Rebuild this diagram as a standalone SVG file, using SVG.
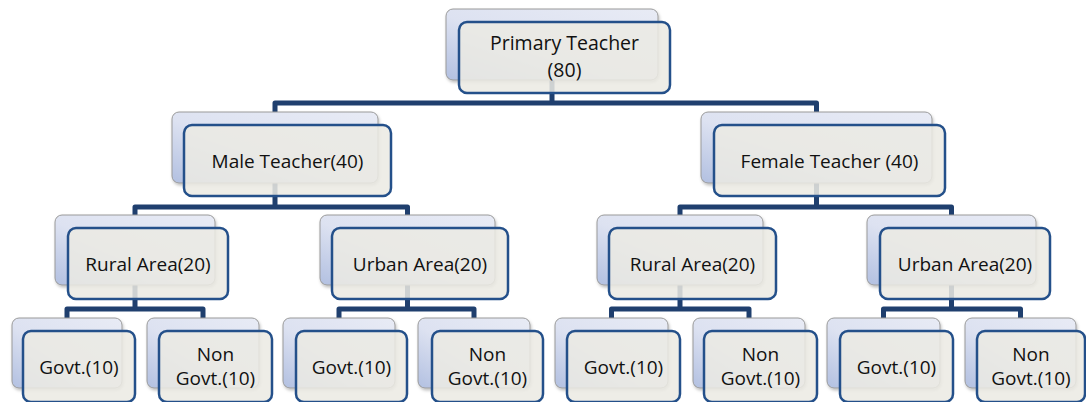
<svg xmlns="http://www.w3.org/2000/svg" width="1086" height="402" viewBox="0 0 1086 402">
<style>
.back{fill:url(#bg);stroke:#9a9a9a;stroke-width:1;filter:url(#sh)}
.front{fill:#ebeae3;fill-opacity:0.86;stroke:#24508a;stroke-width:2.5}
.conn{fill:none;stroke:#1f3f6e;stroke-width:5;stroke-linejoin:round}
.t{font-family:"Open Sans","Noto Sans","Liberation Sans",sans-serif;font-size:19px;fill:#111;text-anchor:middle}
.tt{font-size:19.5px}
</style>
<defs>
<linearGradient id="bg" x1="1" y1="0" x2="0" y2="1">
<stop offset="0" stop-color="#e8ebf5"/>
<stop offset="0.55" stop-color="#dde2f1"/>
<stop offset="1" stop-color="#b2c0e1"/>
</linearGradient>
<filter id="sh" x="-10%" y="-10%" width="125%" height="130%">
<feDropShadow dx="1" dy="2" stdDeviation="1.5" flood-color="#000" flood-opacity="0.25"/>
</filter>
</defs>
<g id="connectors">
<path class="conn" d="M552 80V103M275 112V103H816.5V112"/>
<path class="conn" d="M275 183V207M135 215V207H407.5V215"/>
<path class="conn" d="M816.5 183V207M680 215V207H951.5V215"/>
<path class="conn" d="M135 285V309M67 318V309H203V318"/>
<path class="conn" d="M407.5 285V309M339 318V309H474V318"/>
<path class="conn" d="M680 285V309M611.5 318V309H749V318"/>
<path class="conn" d="M951.5 285V309M883.5 318V309H1020.5V318"/>
</g>
<g id="n-primary">
<rect class="back" x="446" y="9" width="212" height="71" rx="7"/>
<rect class="front" x="459" y="22" width="211" height="71" rx="8"/>
<text class="t tt" x="564.5" y="50">Primary Teacher</text>
<text class="t tt" x="564.5" y="77">(80)</text>
</g>
<g id="n-male">
<rect class="back" x="172" y="112" width="206" height="71" rx="7"/>
<rect class="front" x="184" y="125" width="207" height="71" rx="8"/>
<text class="t" x="287.5" y="168">Male Teacher(40)</text>
</g>
<g id="n-female">
<rect class="back" x="701" y="112" width="231" height="71" rx="7"/>
<rect class="front" x="714" y="125" width="231" height="71" rx="8"/>
<text class="t" x="829.5" y="168">Female Teacher (40)</text>
</g>
<g id="n-m-rural">
<rect class="back" x="55" y="215" width="160" height="70" rx="7"/>
<rect class="front" x="68" y="228" width="160" height="71" rx="8"/>
<text class="t" x="148" y="271">Rural Area(20)</text>
</g>
<g id="n-m-urban">
<rect class="back" x="320" y="215" width="175" height="70" rx="7"/>
<rect class="front" x="332" y="228" width="176" height="71" rx="8"/>
<text class="t" x="420" y="271">Urban Area(20)</text>
</g>
<g id="n-f-rural">
<rect class="back" x="597" y="215" width="166" height="70" rx="7"/>
<rect class="front" x="609" y="228" width="167" height="71" rx="8"/>
<text class="t" x="692.5" y="271">Rural Area(20)</text>
</g>
<g id="n-f-urban">
<rect class="back" x="867" y="215" width="169" height="70" rx="7"/>
<rect class="front" x="880" y="228" width="170" height="71" rx="8"/>
<text class="t" x="965" y="271">Urban Area(20)</text>
</g>
<g id="n-mr-govt">
<rect class="back" x="12" y="318" width="110" height="70" rx="7"/>
<rect class="front" x="23" y="331" width="112" height="71" rx="8"/>
<text class="t" x="79" y="374">Govt.(10)</text>
</g>
<g id="n-mr-non">
<rect class="back" x="147" y="318" width="112" height="70" rx="7"/>
<rect class="front" x="159" y="331" width="113" height="71" rx="8"/>
<text class="t" x="215.5" y="361">Non</text>
<text class="t" x="215.5" y="385">Govt.(10)</text>
</g>
<g id="n-mu-govt">
<rect class="back" x="283" y="318" width="112" height="70" rx="7"/>
<rect class="front" x="296" y="331" width="111" height="71" rx="8"/>
<text class="t" x="351.5" y="374">Govt.(10)</text>
</g>
<g id="n-mu-non">
<rect class="back" x="418" y="318" width="112" height="70" rx="7"/>
<rect class="front" x="432" y="331" width="111" height="71" rx="8"/>
<text class="t" x="487.5" y="361">Non</text>
<text class="t" x="487.5" y="385">Govt.(10)</text>
</g>
<g id="n-fr-govt">
<rect class="back" x="555" y="318" width="113" height="70" rx="7"/>
<rect class="front" x="567" y="331" width="113" height="71" rx="8"/>
<text class="t" x="623.5" y="374">Govt.(10)</text>
</g>
<g id="n-fr-non">
<rect class="back" x="693" y="318" width="112" height="70" rx="7"/>
<rect class="front" x="704" y="331" width="113" height="71" rx="8"/>
<text class="t" x="760.5" y="361">Non</text>
<text class="t" x="760.5" y="385">Govt.(10)</text>
</g>
<g id="n-fu-govt">
<rect class="back" x="827" y="318" width="113" height="70" rx="7"/>
<rect class="front" x="840" y="331" width="113" height="71" rx="8"/>
<text class="t" x="896.5" y="374">Govt.(10)</text>
</g>
<g id="n-fu-non">
<rect class="back" x="965" y="318" width="111" height="70" rx="7"/>
<rect class="front" x="977" y="331" width="108" height="71" rx="8"/>
<text class="t" x="1031" y="361">Non</text>
<text class="t" x="1031" y="385">Govt.(10)</text>
</g>
</svg>
